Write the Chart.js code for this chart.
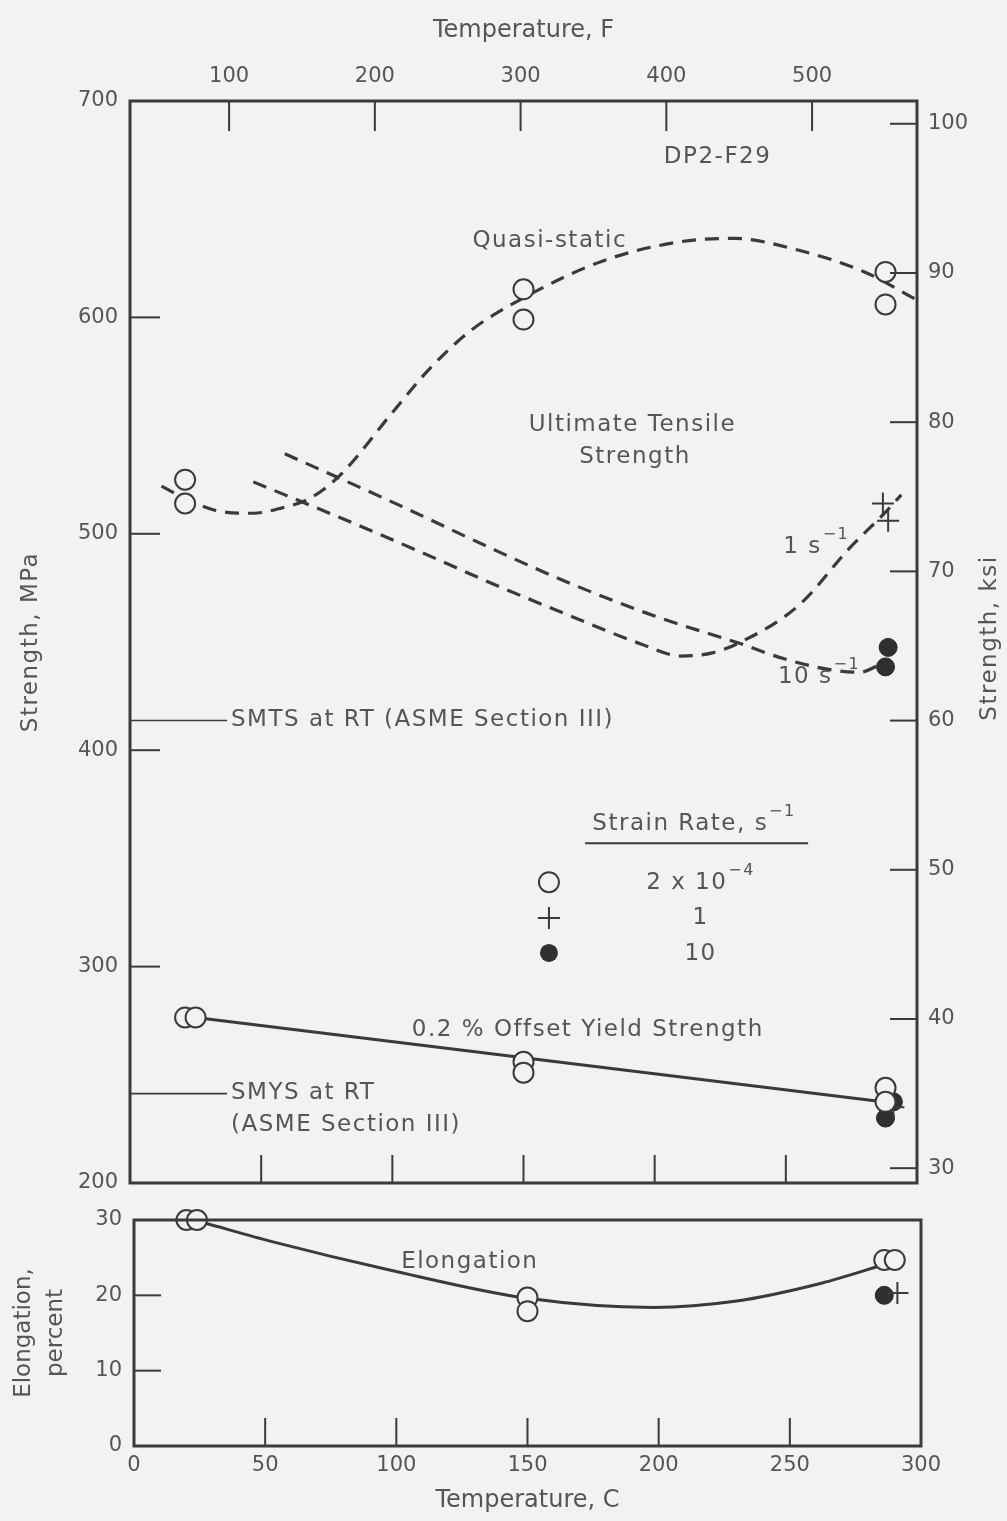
<!DOCTYPE html>
<html><head><meta charset="utf-8">
<script src="https://cdn.jsdelivr.net/npm/chart.js@4.4.1/dist/chart.umd.min.js"></script>
<style>
html,body{margin:0;padding:0;background:#f2f2f0;}
#wrap{position:relative;width:1007px;height:1521px;overflow:hidden;background:#f2f2f0;}
#c1{position:absolute;left:0;top:0;}
#c2{position:absolute;left:0;top:1200px;}
</style></head><body>
<div id="wrap">
<canvas id="c1" width="1007" height="1200"></canvas>
<canvas id="c2" width="1007" height="321"></canvas>
</div>
<script>
// ---------- tick labels ----------
const tempTicksC = [0, 50, 100, 150, 200, 250, 300];
const tempTicksF = [100, 200, 300, 400, 500];
const mpaTicks = [200, 300, 400, 500, 600, 700];
const ksiTicks = [30, 40, 50, 60, 70, 80, 90, 100];
const elongTicks = [0, 10, 20, 30];

// ---------- ultimate tensile strength, MPa ----------
const utsQuasiT = [21, 21, 150, 150, 288, 288];
const utsQuasiV = [525, 514, 613, 599, 621, 606];
const uts1T = [287, 289];
const uts1V = [514, 506];
const uts10T = [289, 288];
const uts10V = [447.5, 438.5];
// fitted (dashed) curves
const qsCurveT = [12, 20, 32, 47, 58, 68, 80, 100, 114, 130, 150, 180, 210, 230, 255, 280, 300];
const qsCurveV = [522, 517, 511, 509.5, 512, 516, 527, 556, 576, 594, 609, 626, 635, 636.5, 631, 621, 608];
const r1CurveT = [47, 80, 110, 140, 168, 195, 210, 222, 232, 255, 274, 288, 294];
const r1CurveV = [524, 507.5, 492, 476, 462, 449, 443.5, 445, 449.5, 467, 493, 510, 518];
const r10CurveT = [59, 103, 140, 168, 200, 232, 250, 268, 278, 288];
const r10CurveV = [537, 513, 492, 477, 462, 449.5, 442, 437, 436, 441];

// ---------- 0.2% offset yield strength, MPa ----------
const ysQuasiT = [21, 25, 150, 150, 288, 288];
const ysQuasiV = [276.5, 276.5, 256, 251, 244, 237.5];
const ys1T = [291];
const ys1V = [235];
const ys10T = [291, 288];
const ys10V = [237.5, 230];
const ysLineT = [25, 287];
const ysLineV = [276.5, 237.5];

// ---------- reference lines (ASME Section III, RT) ----------
const smtsT = [0, 37];
const smtsV = [413.7, 413.7];
const smysT = [0, 37];
const smysV = [241.3, 241.3];

// ---------- elongation, percent ----------
const elQuasiT = [20, 24, 150, 150, 286, 290];
const elQuasiV = [30, 30, 19.7, 17.9, 24.7, 24.7];
const el1T = [291];
const el1V = [20.3];
const el10T = [286];
const el10V = [20];
const elCurveT = [27, 53, 97, 150, 198, 229, 262, 287];
const elCurveV = [29.6, 27.1, 23.4, 19.6, 18.4, 19.2, 21.6, 24.2];

const MPA_PER_KSI = 6.89476;
const cToF = c => c * 9 / 5 + 32;

// ---------- style ----------
const BG = '#f2f2f0';
const INK = '#3a3a3a';
const TXT = '#555555';
const FONT = '"DejaVu Sans", sans-serif';
const FS = 21;     // tick labels
const AS = 23;     // annotation text
const LS = '1.5px';

const pts = (xs, ys) => xs.map((x, i) => ({x: x, y: ys[i]}));

function openPts(label, xs, ys) {
  return {label, data: pts(xs, ys), showLine: false, pointStyle: 'circle', pointRadius: 10,
    pointBorderWidth: 2, pointBorderColor: INK, pointBackgroundColor: BG, clip: false, order: 1};
}
function plusPts(label, xs, ys) {
  return {label, data: pts(xs, ys), showLine: false, pointStyle: 'cross', pointRadius: 11,
    pointBorderWidth: 2, pointBorderColor: INK, pointBackgroundColor: INK, clip: false, order: 1};
}
function fillPts(label, xs, ys) {
  return {label, data: pts(xs, ys), showLine: false, pointStyle: 'circle', pointRadius: 9,
    pointBorderWidth: 1, pointBorderColor: '#2a2a2a', pointBackgroundColor: '#2f2f2f', clip: false, order: 1};
}
function curve(label, xs, ys, dashed, w) {
  return {label, data: pts(xs, ys), showLine: true, pointRadius: 0, borderColor: INK,
    borderWidth: w || 3, borderDash: dashed ? [14, 9] : [], cubicInterpolationMode: 'monotone',
    fill: false, clip: false, order: 2};
}

function fixTicks(list) { return s => { s.ticks = list.map(v => ({value: v})); }; }
function fitV(w) { return s => { s.width = w; s.paddingTop = 0; s.paddingBottom = 0; }; }
function fitH(h) { return s => { s.height = h; s.paddingLeft = 0; s.paddingRight = 0; }; }

function txt(ctx, s, x, y, align, size) {
  ctx.font = (size || AS) + 'px ' + FONT;
  ctx.letterSpacing = LS;
  ctx.textAlign = align || 'center';
  ctx.textBaseline = 'middle';
  ctx.fillStyle = TXT;
  ctx.fillText(s, x, y);
  ctx.letterSpacing = '0px';
}
// base text followed by a superscript
function txtSup(ctx, base, sup, x, y, align, size) {
  size = size || AS;
  const ss = Math.round(size * 0.68);
  ctx.letterSpacing = LS;
  ctx.font = size + 'px ' + FONT;
  const wb = ctx.measureText(base).width;
  ctx.font = ss + 'px ' + FONT;
  const ws = ctx.measureText(sup).width;
  ctx.letterSpacing = '0px';
  const total = wb + 1 + ws;
  let x0 = x;
  if (align === 'center') x0 = x - total / 2;
  txt(ctx, base, x0, y, 'left', size);
  txt(ctx, sup, x0 + wb + 1, y - size * 0.52, 'left', ss);
}

function inTicks(chart, id, len) {
  const s = chart.scales[id], a = chart.chartArea, ctx = chart.ctx;
  ctx.save();
  ctx.strokeStyle = INK;
  ctx.lineWidth = 2;
  s.ticks.forEach(t => {
    const p = s.getPixelForValue(t.value);
    ctx.beginPath();
    if (s.position === 'left') {
      if (p <= a.top + 3 || p >= a.bottom - 3) return;
      ctx.moveTo(a.left, p); ctx.lineTo(a.left + len, p);
    } else if (s.position === 'right') {
      if (p <= a.top + 3 || p >= a.bottom - 3) return;
      ctx.moveTo(a.right, p); ctx.lineTo(a.right - len, p);
    } else if (s.position === 'top') {
      if (p <= a.left + 3 || p >= a.right - 3) return;
      ctx.moveTo(p, a.top); ctx.lineTo(p, a.top + len);
    } else {
      if (p <= a.left + 3 || p >= a.right - 3) return;
      ctx.moveTo(p, a.bottom); ctx.lineTo(p, a.bottom - len);
    }
    ctx.stroke();
  });
  ctx.restore();
}

function frame(chart) {
  const a = chart.chartArea, ctx = chart.ctx;
  ctx.save();
  ctx.strokeStyle = INK;
  ctx.lineWidth = 3;
  ctx.strokeRect(a.left, a.top, a.right - a.left, a.bottom - a.top);
  ctx.restore();
}

function markerOpen(ctx, x, y) { ctx.save(); ctx.beginPath(); ctx.arc(x, y, 10, 0, Math.PI * 2); ctx.fillStyle = BG; ctx.fill(); ctx.lineWidth = 2; ctx.strokeStyle = INK; ctx.stroke(); ctx.restore(); }
function markerPlus(ctx, x, y) { ctx.save(); ctx.beginPath(); ctx.moveTo(x - 11, y); ctx.lineTo(x + 11, y); ctx.moveTo(x, y - 11); ctx.lineTo(x, y + 11); ctx.lineWidth = 2; ctx.strokeStyle = INK; ctx.stroke(); ctx.restore(); }
function markerFill(ctx, x, y) { ctx.save(); ctx.beginPath(); ctx.arc(x, y, 9, 0, Math.PI * 2); ctx.fillStyle = '#2f2f2f'; ctx.fill(); ctx.restore(); }

const tickFont = {family: FONT, size: FS};
const titleFont = {family: FONT, size: 24};

// ================= top chart: strength =================
const topDeco = {
  id: 'topDeco',
  beforeDraw(chart) {
    const ctx = chart.ctx;
    ctx.save(); ctx.fillStyle = BG; ctx.fillRect(0, 0, chart.width, chart.height); ctx.restore();
  },
  afterDatasetsDraw(chart) {
    const ctx = chart.ctx, X = chart.scales.x, Y = chart.scales.y;
    const px = v => X.getPixelForValue(v), py = v => Y.getPixelForValue(v);
    frame(chart);
    inTicks(chart, 'y', 30);
    inTicks(chart, 'yK', 27);
    inTicks(chart, 'xF', 30);
    inTicks(chart, 'x', 28);
    ctx.save();
    txt(ctx, 'DP2-F29', px(224), py(674), 'center');
    txt(ctx, 'Quasi-static', px(160), py(635.5), 'center');
    txt(ctx, 'Ultimate Tensile', px(191.5), py(550.3), 'center');
    txt(ctx, 'Strength', px(192.5), py(535.5), 'center');
    txtSup(ctx, '1 s', '\u22121', px(249), py(494), 'left');
    txtSup(ctx, '10 s', '\u22121', px(247), py(434), 'left');
    txt(ctx, 'SMTS at RT (ASME Section III)', px(38.5), py(414), 'left');
    txtSup(ctx, 'Strain Rate, s', '\u22121', px(215), py(366), 'center');
    ctx.strokeStyle = INK; ctx.lineWidth = 2;
    ctx.beginPath(); ctx.moveTo(px(173.5), py(357)); ctx.lineTo(px(258.5), py(357)); ctx.stroke();
    markerOpen(ctx, px(159.7), py(339));
    markerPlus(ctx, px(159.7), py(322.5));
    markerFill(ctx, px(159.7), py(306.3));
    txtSup(ctx, '2 x 10', '\u22124', px(217.5), py(338.5), 'center');
    txt(ctx, '1', px(217.5), py(322.5), 'center');
    txt(ctx, '10', px(217.5), py(306), 'center');
    txt(ctx, '0.2 % Offset Yield Strength', px(174.5), py(270.5), 'center');
    txt(ctx, 'SMYS at RT', px(38.5), py(241.6), 'left');
    txt(ctx, '(ASME Section III)', px(38.5), py(226.8), 'left');
    // rotated axis titles
    ctx.save(); ctx.translate(31, 642); ctx.rotate(-Math.PI / 2); txt(ctx, 'Strength, MPa', 0, 0, 'center'); ctx.restore();
    ctx.save(); ctx.translate(990, 638); ctx.rotate(-Math.PI / 2); txt(ctx, 'Strength, ksi', 0, 0, 'center'); ctx.restore();
    ctx.restore();
  }
};

new Chart(document.getElementById('c1'), {
  type: 'scatter',
  data: {
    datasets: [
      openPts('UTS 2e-4', utsQuasiT, utsQuasiV),
      plusPts('UTS 1', uts1T, uts1V),
      fillPts('UTS 10', uts10T, uts10V),
      openPts('YS 2e-4', ysQuasiT, ysQuasiV),
      plusPts('YS 1', ys1T, ys1V),
      fillPts('YS 10', ys10T, ys10V),
      curve('Quasi-static', qsCurveT, qsCurveV, true, 3.2),
      curve('1 s-1', r1CurveT, r1CurveV, true, 3.2),
      curve('10 s-1', r10CurveT, r10CurveV, true, 3.2),
      curve('Yield', ysLineT, ysLineV, false, 3),
      curve('SMTS', smtsT, smtsV, false, 1.6),
      curve('SMYS', smysT, smysV, false, 1.6)
    ]
  },
  options: {
    responsive: false, animation: false, devicePixelRatio: 1,
    layout: {padding: 0},
    plugins: {legend: {display: false}, tooltip: {enabled: false}},
    scales: {
      x: {type: 'linear', position: 'bottom', min: 0, max: 300,
        afterBuildTicks: fixTicks(tempTicksC), afterFit: fitH(17),
        ticks: {display: false}, grid: {display: false}, border: {display: false}},
      xF: {type: 'linear', position: 'top', min: cToF(0), max: cToF(300),
        afterBuildTicks: fixTicks(tempTicksF), afterFit: fitH(101),
        ticks: {font: tickFont, color: TXT, padding: 12, maxRotation: 0},
        grid: {display: false, drawTicks: false}, border: {display: false},
        title: {display: true, text: 'Temperature, F', font: titleFont, color: TXT, padding: {top: 16, bottom: 0}}},
      y: {type: 'linear', position: 'left', min: 200, max: 700,
        afterBuildTicks: fixTicks(mpaTicks), afterFit: fitV(130),
        ticks: {font: tickFont, color: TXT, padding: 12},
        grid: {display: false, drawTicks: false}, border: {display: false}},
      yK: {type: 'linear', position: 'right', min: 200 / MPA_PER_KSI, max: 700 / MPA_PER_KSI,
        afterBuildTicks: fixTicks(ksiTicks), afterFit: fitV(90),
        ticks: {font: tickFont, color: TXT, padding: 11, callback: v => String(Math.round(v))},
        grid: {display: false, drawTicks: false}, border: {display: false}}
    }
  },
  plugins: [topDeco]
});

// ================= bottom chart: elongation =================
const botDeco = {
  id: 'botDeco',
  beforeDraw(chart) {
    const ctx = chart.ctx;
    ctx.save(); ctx.fillStyle = BG; ctx.fillRect(0, 0, chart.width, chart.height); ctx.restore();
  },
  afterDatasetsDraw(chart) {
    const ctx = chart.ctx, X = chart.scales.x, Y = chart.scales.y;
    frame(chart);
    inTicks(chart, 'y', 27);
    inTicks(chart, 'x', 28);
    txt(ctx, 'Elongation', X.getPixelForValue(128), Y.getPixelForValue(24.4), 'center');
  }
};

new Chart(document.getElementById('c2'), {
  type: 'scatter',
  data: {
    datasets: [
      openPts('Elong 2e-4', elQuasiT, elQuasiV),
      plusPts('Elong 1', el1T, el1V),
      fillPts('Elong 10', el10T, el10V),
      curve('Elongation', elCurveT, elCurveV, false, 3)
    ]
  },
  options: {
    responsive: false, animation: false, devicePixelRatio: 1,
    layout: {padding: {top: 20, right: 86, left: 0, bottom: 0}},
    plugins: {legend: {display: false}, tooltip: {enabled: false}},
    scales: {
      x: {type: 'linear', position: 'bottom', min: 0, max: 300,
        afterBuildTicks: fixTicks(tempTicksC), afterFit: fitH(75),
        ticks: {font: tickFont, color: TXT, padding: 7, maxRotation: 0},
        grid: {display: false, drawTicks: false}, border: {display: false},
        title: {display: true, text: 'Temperature, C', font: titleFont, color: TXT, padding: {top: 0, bottom: 6}}},
      y: {type: 'linear', position: 'left', min: 0, max: 30,
        afterBuildTicks: fixTicks(elongTicks), afterFit: fitV(134),
        ticks: {font: tickFont, color: TXT, padding: 12},
        grid: {display: false, drawTicks: false}, border: {display: false},
        title: {display: true, text: ['Elongation,', 'percent'], font: {family: FONT, size: 23, lineHeight: 1.4}, color: TXT, padding: {top: 8, bottom: 0}}}
    }
  },
  plugins: [botDeco]
});
</script>
</body></html>
